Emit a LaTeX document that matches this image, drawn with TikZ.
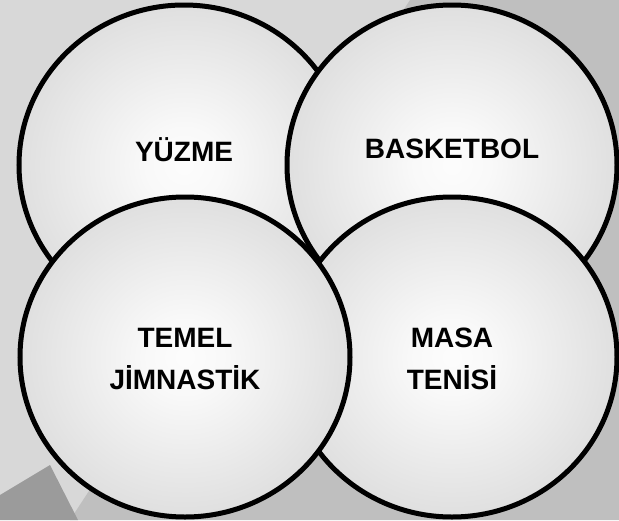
\documentclass[tikz,border=0pt]{standalone}
\usepackage{fontspec}
\setmainfont{Liberation Sans}
\usetikzlibrary{shapes.geometric}
\pgfdeclareradialshading{ballshade}{\pgfpoint{0bp}{0bp}}{rgb(0bp)=(0.99,0.99,0.99); rgb(6bp)=(0.975,0.975,0.975); rgb(28bp)=(0.86,0.86,0.86); rgb(50bp)=(0.75,0.75,0.75); rgb(100bp)=(0.75,0.75,0.75)}
\definecolor{bglight}{HTML}{D8D8D8}
\definecolor{bgdark}{HTML}{BFBFBF}
\definecolor{wedge}{HTML}{9B9B9B}
\tikzset{
  ball/.style={shape=ellipse, draw=black, line width=5pt, shading=ballshade,
    minimum width=330pt, minimum height=320pt, inner sep=0pt, outer sep=0pt},
  lbl/.style={font=\bfseries\fontsize{28}{42}\selectfont, align=center, text=black, inner sep=0pt}
}
\begin{document}
\begin{tikzpicture}[x=1pt,y=-1pt]
\useasboundingbox (0,0) rectangle (619,520);
% background
\fill[bglight] (0,0) rectangle (619,520);
\fill[bgdark] (410,0) -- (619,0) -- (619,520) -- (70,520) -- cycle;
\fill[wedge] (0,495) -- (50,465) -- (78,520) -- (0,520) -- cycle;
% circles (drawing order gives the overlaps)
\node[ball] (c1) at (184,165) {};
\node[ball] (c2) at (452,165) {};
\node[ball] (c4) at (452,357) {};
\node[ball] (c3) at (185,357) {};
% labels
\node[lbl] (t1) at ([yshift=15pt]c1.center) {YÜZME};
\node[lbl] (t2) at ([yshift=16pt]c2.center) {BASKETBOL};
\node[lbl] (t3) at ([yshift=-2pt]c3.center) {TEMEL\\JİMNASTİK};
\node[lbl] (t4) at ([yshift=-2pt]c4.center) {MASA\\TENİSİ};
\end{tikzpicture}
\end{document}
